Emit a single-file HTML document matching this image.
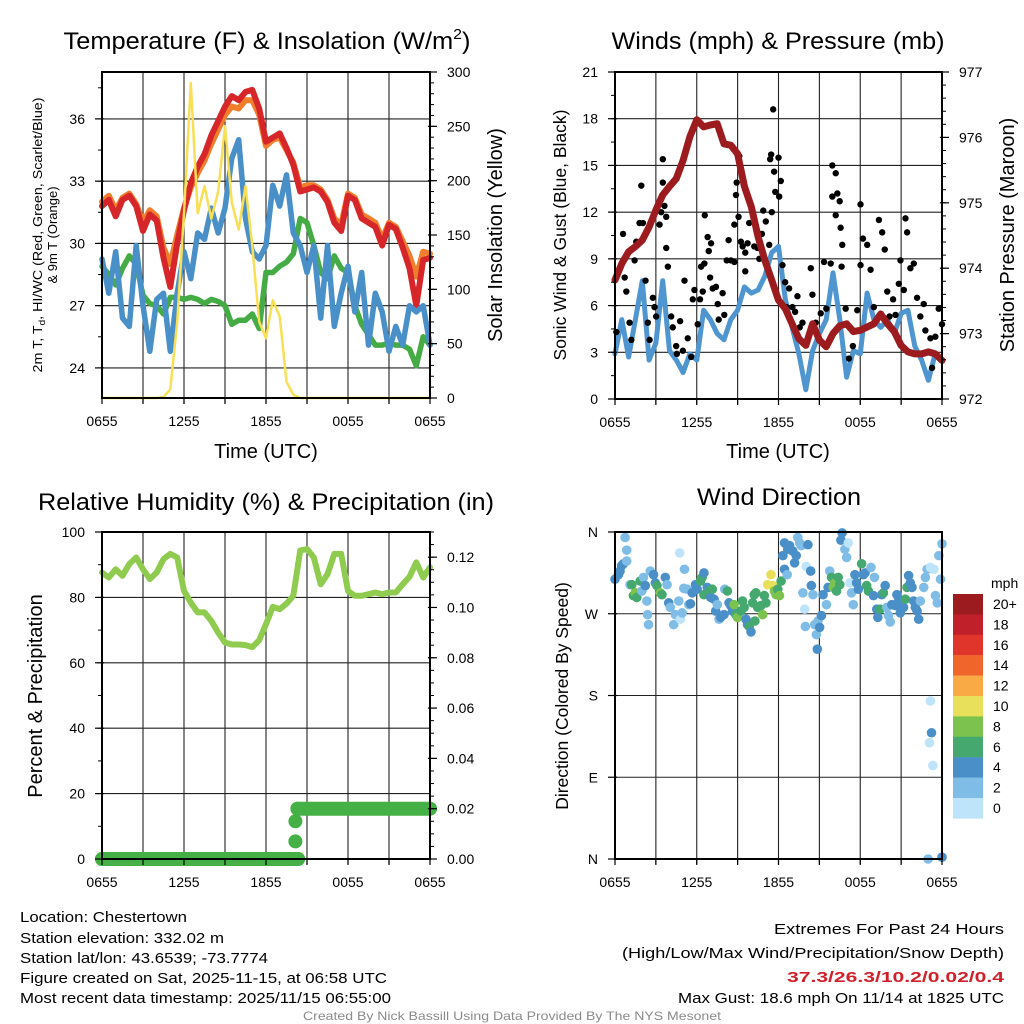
<!DOCTYPE html>
<html><head><meta charset="utf-8"><style>
html,body{margin:0;padding:0;background:#fff;}
svg{display:block;font-family:"Liberation Sans",Arial,sans-serif;}
</style></head><body>
<svg id="chart" width="1024" height="1024" viewBox="0 0 1024 1024" xmlns="http://www.w3.org/2000/svg">
<rect x="0" y="0" width="1024" height="1024" fill="#fff"/>
<g font-size="24" text-anchor="middle" fill="#000">
<text x="267" y="49" textLength="407" lengthAdjust="spacingAndGlyphs">Temperature (F) &amp; Insolation (W/m<tspan font-size="15" dy="-10">2</tspan><tspan dy="10">)</tspan></text>
<text x="778" y="49" textLength="333" lengthAdjust="spacingAndGlyphs">Winds (mph) &amp; Pressure (mb)</text>
<text x="266" y="510" textLength="456" lengthAdjust="spacingAndGlyphs">Relative Humidity (%) &amp; Precipitation (in)</text>
<text x="779" y="505" textLength="164" lengthAdjust="spacingAndGlyphs">Wind Direction</text>
</g>
<g font-size="13" text-anchor="middle">
<text transform="translate(42,235) rotate(-90)" textLength="275" lengthAdjust="spacingAndGlyphs">2m T, T<tspan font-size="9" dy="3">d</tspan><tspan dy="-3">, HI/WC (Red, Green, Scarlet/Blue)</tspan></text>
<text transform="translate(57,235) rotate(-90)">&amp; 9m T (Orange)</text>
</g>
<g font-size="20" text-anchor="middle">
<text transform="translate(502,235) rotate(-90)">Solar Insolation (Yellow)</text>
<text transform="translate(566,235) rotate(-90)" font-size="17.5">Sonic Wind &amp; Gust (Blue, Black)</text>
<text transform="translate(1014,235) rotate(-90)">Station Pressure (Maroon)</text>
<text transform="translate(42,696) rotate(-90)">Percent &amp; Precipitation</text>
<text transform="translate(568,696) rotate(-90)" font-size="17.5">Direction (Colored By Speed)</text>
<text x="266" y="458">Time (UTC)</text>
<text x="778" y="458">Time (UTC)</text>
</g>
<g font-size="15" fill="#000">
<text x="20" y="922" textLength="167" lengthAdjust="spacingAndGlyphs">Location: Chestertown</text>
<text x="20" y="943" textLength="204" lengthAdjust="spacingAndGlyphs">Station elevation: 332.02 m</text>
<text x="20" y="963" textLength="248" lengthAdjust="spacingAndGlyphs">Station lat/lon: 43.6539; -73.7774</text>
<text x="20" y="983" textLength="367" lengthAdjust="spacingAndGlyphs">Figure created on Sat, 2025-11-15, at 06:58 UTC</text>
<text x="20" y="1003" textLength="371" lengthAdjust="spacingAndGlyphs">Most recent data timestamp: 2025/11/15 06:55:00</text>
<text x="774" y="934" textLength="230" lengthAdjust="spacingAndGlyphs">Extremes For Past 24 Hours</text>
<text x="622" y="958" textLength="382" lengthAdjust="spacingAndGlyphs">(High/Low/Max Wind/Precipitation/Snow Depth)</text>
<text x="787" y="982" textLength="217" lengthAdjust="spacingAndGlyphs" fill="#d0202a" font-weight="bold">37.3/26.3/10.2/0.02/0.4</text>
<text x="678" y="1003" textLength="326" lengthAdjust="spacingAndGlyphs">Max Gust: 18.6 mph On 11/14 at 1825 UTC</text>
<text x="303" y="1020" font-size="12" fill="#8a8a8a" textLength="418" lengthAdjust="spacingAndGlyphs">Created By Nick Bassill Using Data Provided By The NYS Mesonet</text>
</g>
</svg>
<script>
// ---------- data ----------
const halfHours = [0,0.5,1,1.5,2,2.5,3,3.5,4,4.5,5,5.5,6,6.5,7,7.5,8,8.5,9,9.5,10,10.5,11,11.5,12,12.5,13,13.5,14,14.5,15,15.5,16,16.5,17,17.5,18,18.5,19,19.5,20,20.5,21,21.5,22,22.5,23,23.5,24];
const timeTickLabels = ["0655","1255","1855","0055","0655"];
const timeTickHours = [0,6,12,18,24];
const temp2m = [31.8,32.1,31.3,32.1,32.3,31.8,30.6,31.4,31.1,29.3,27.9,30.0,31.6,32.9,33.7,34.3,35.2,35.9,36.6,37.1,36.9,37.3,37.4,36.5,34.9,35.1,35.3,34.6,33.8,32.5,32.6,32.7,32.5,32.0,31.0,30.6,32.3,32.1,31.2,31.0,30.8,29.9,30.9,30.7,29.8,28.8,27.0,29.2,29.3];
const temp9m = [32.0,32.3,31.6,32.2,32.4,31.9,31.0,31.6,31.3,29.8,29.0,30.4,31.7,32.7,33.4,34.0,34.8,35.5,36.2,36.6,36.5,36.9,36.9,36.2,34.7,35.0,35.1,34.5,33.9,32.7,32.8,32.8,32.6,32.1,31.2,30.9,32.4,32.2,31.4,31.2,31.0,30.2,31.0,30.8,30.1,29.4,28.4,29.6,29.5];
const dewpoint = [28.9,28.5,28.0,28.8,29.4,29.0,27.5,27.1,27.0,26.6,27.4,27.4,27.3,27.4,27.3,27.1,27.3,27.2,27.0,26.1,26.3,26.3,26.6,25.9,28.6,28.6,28.9,29.1,29.5,31.2,31.0,29.9,28.6,28.3,29.4,28.8,28.6,27.0,26.1,25.6,25.1,25.1,25.2,25.1,25.1,24.9,24.1,25.5,25.1];
const windChill = [29.25,27.6,29.6,26.4,26.0,29.9,27.0,24.8,27.3,27.6,24.8,27.6,29.6,28.3,30.5,30.2,31.7,30.5,31.7,34.1,35.0,31.2,29.6,29.25,29.9,32.8,31.8,33.3,30.5,29.9,28.6,29.9,26.4,29.9,26.0,27.6,28.9,26.7,28.6,25.1,27.6,26.7,24.8,26.0,25.1,27.0,26.7,27.0,25.1];
const insolation = [0,0,0,0,0,0,0,0,0,1,8,70,170,290,170,195,165,190,250,180,155,195,140,70,55,90,75,15,3,0,0,0,0,0,0,0,0,0,0,0,0,0,0,0,0,0,0,0,0];
const tempTicks = [24,27,30,33,36];
const solarTicks = [0,50,100,150,200,250,300];

const sonicWind = [2.9,5.1,2.7,5.1,7.6,2.5,3.6,7.6,3.1,2.5,1.7,2.9,2.5,5.7,5.1,4.2,3.8,5.1,5.7,7.2,6.8,7.0,7.9,9.4,9.8,6.4,4.6,2.9,0.6,3.1,4.2,5.1,8.1,5.1,1.4,3.1,2.9,6.8,5.1,4.6,5.1,4.2,5.5,5.7,3.4,2.5,1.2,2.9,2.5];
const pressure = [973.82,974.07,974.25,974.33,974.43,974.63,974.89,975.12,975.25,975.37,975.65,976.01,976.27,976.16,976.19,976.21,975.9,975.88,975.75,975.25,974.94,974.48,974.12,973.82,973.51,973.38,973.15,972.92,972.82,973.15,972.9,972.8,973.0,973.12,973.15,973.03,973.05,973.1,973.15,973.3,973.15,973.03,972.82,972.72,972.69,972.69,972.72,972.69,972.59];
const gustHour = [0.10,0.59,0.71,0.83,1.07,1.20,1.44,1.56,1.80,1.93,2.05,2.24,2.41,2.54,2.78,2.90,3.02,3.27,3.39,3.51,3.63,3.51,3.76,3.76,3.88,4.12,4.24,4.49,4.54,4.78,4.98,5.10,5.34,5.59,5.71,5.83,6.07,6.24,6.32,6.44,6.56,6.59,6.80,6.88,6.98,7.05,7.17,7.41,7.54,7.61,7.90,8.02,8.20,8.34,8.51,8.76,8.76,8.88,8.93,9.07,9.12,9.24,9.37,9.56,9.56,9.73,9.85,10.22,10.46,10.59,10.78,10.88,11.07,11.32,11.39,11.46,11.51,11.61,11.68,11.76,12.0,12.05,12.17,12.29,12.49,12.59,12.78,13.02,13.22,13.39,13.56,13.76,14.37,14.49,14.73,15.10,15.34,15.51,15.83,15.95,16.20,15.95,16.32,16.49,16.20,16.56,16.68,16.63,16.93,17.17,17.46,17.78,18.02,18.02,18.20,18.51,18.76,19.0,19.37,19.61,19.80,19.98,20.15,20.41,20.59,20.83,20.95,21.20,21.32,21.44,21.68,21.93,22.17,22.41,22.66,22.78,23.15,23.27,23.51,23.76,24.0];
const gustMph = [4.3,10.6,7.8,6.9,4.9,3.8,8.9,10.1,11.3,13.7,11.3,7.6,4.9,3.8,6.5,5.9,5.3,11.2,12.0,13.9,12.4,15.4,11.7,9.7,8.5,5.3,4.6,3.4,2.9,5.0,3.1,7.6,3.9,2.7,6.4,7.0,4.8,6.4,8.5,6.9,8.7,11.8,10.4,9.5,7.8,10.0,7.1,7.2,6.1,5.1,6.8,5.4,8.9,10.2,8.9,8.8,11.2,13.1,13.9,11.7,15.6,10.1,9.8,9.4,8.2,10.0,11.3,9.8,9.7,9.0,10.6,12.1,11.4,9.9,15.4,15.7,12.0,18.6,14.6,13.3,15.5,13.0,14.0,8.6,7.5,5.9,7.1,5.9,5.6,6.6,4.6,4.9,8.4,6.7,4.9,5.5,8.8,5.8,8.7,15.0,14.5,13.0,13.2,12.7,11.8,11.0,9.9,8.5,5.8,2.6,3.4,5.7,12.5,8.6,10.3,9.9,8.3,5.9,11.5,10.7,9.6,6.9,5.3,6.4,5.4,7.4,8.9,7.0,11.6,10.7,8.4,8.7,6.5,5.3,6.1,4.4,3.9,2.0,4.0,5.8,4.8];
const windTicks = [0,3,6,9,12,15,18,21];
const pressureTicks = [972,973,974,975,976,977];

const humidity = [87.6,86.1,88.6,86.6,90.2,92.2,88.6,85.6,87.6,91.7,93.3,92.2,82.0,78.4,75.4,75.4,72.8,69.2,66.2,65.6,65.6,65.4,64.8,66.9,71.8,77.1,76.4,78.1,80.5,94.3,94.8,92.2,84.0,87.1,93.3,93.3,82.0,80.5,80.5,81.0,81.5,81.0,81.5,81.5,84.0,86.3,90.7,86.1,89.2];
const precipHour = [0,14.35,14.15,14.15,14.3,24];
const precipInches = [0,0,0.007,0.015,0.02,0.02];
const percentTicks = [0,20,40,60,80,100];
const precipTicks = ["0.00","0.02","0.04","0.06","0.08","0.10","0.12"];

const dirHour = [0.0,0.25,0.37,0.49,0.62,0.86,0.74,0.86,1.11,1.23,1.35,1.48,1.60,1.85,1.97,2.09,2.22,2.34,2.39,2.46,2.59,2.83,2.96,3.08,3.33,3.45,3.69,3.82,3.94,4.06,4.31,4.43,4.68,4.75,4.80,4.93,5.05,5.10,5.30,5.42,5.54,5.67,5.91,6.03,6.28,6.40,6.53,6.53,6.77,6.90,7.02,7.14,7.27,7.39,7.51,7.64,7.76,8.0,8.05,8.25,8.37,8.50,8.62,8.74,8.87,8.99,9.24,9.36,9.48,9.61,9.73,9.85,9.98,10.10,10.22,10.27,10.34,10.47,10.71,10.84,10.96,11.08,11.21,11.45,11.58,11.70,11.82,11.95,12.07,12.19,12.32,12.44,12.44,12.64,12.68,12.81,13.05,13.18,13.30,13.42,13.55,13.67,13.92,13.79,13.97,14.04,14.16,14.36,14.41,14.53,14.66,14.78,14.85,14.90,15.02,15.15,15.27,15.52,15.64,15.76,15.89,16.01,16.13,16.26,16.38,16.50,16.58,16.67,16.87,17.0,17.12,17.24,17.36,17.49,17.61,17.73,17.86,18.10,18.23,18.35,18.47,18.60,18.79,18.97,19.04,19.21,19.29,19.46,19.58,19.70,19.83,19.95,20.07,20.20,20.32,20.57,20.69,20.81,20.94,21.18,21.31,21.43,21.55,21.67,21.80,21.92,22.04,22.17,22.29,22.41,22.66,22.78,22.91,23.15,23.40,23.52,23.65,23.77,23.89,24.0,23.15,23.23,23.08,23.33,22.98,24.0];
const dirDegrees = [308,313,317,323,325,328,354,340,302,302,290,293,288,306,295,310,301,284,269,258,317,313,304,301,293,291,310,302,282,277,258,269,284,337,264,271,298,319,297,280,281,293,302,297,306,310,315,291,299,295,288,297,286,273,280,264,266,269,297,295,282,279,273,280,269,266,273,284,277,264,258,256,250,282,291,262,293,277,279,269,290,282,302,313,301,295,291,297,290,306,334,348,319,313,341,345,339,326,334,354,348,345,275,293,256,322,346,317,301,291,258,247,231,262,255,268,291,280,299,317,310,299,304,295,310,302,351,359,341,332,348,304,293,280,313,304,297,325,313,315,301,295,321,290,310,275,266,275,291,293,301,277,268,261,280,279,291,284,271,277,286,299,312,304,299,284,277,273,264,284,299,310,319,321,319,290,282,334,308,347,174,139,128,103,0,2];
const dirSpeed = [4,4,4,4,4,2,2,2,2,6,6,8,6,6,2,2,4,2,2,2,2,4,4,6,8,6,4,2,4,2,2,2,2,0,0,2,2,2,2,2,4,4,4,4,6,6,4,6,4,6,4,6,4,4,2,2,4,4,2,6,4,4,4,8,6,8,6,6,6,4,4,6,4,6,6,6,6,6,6,8,6,6,10,10,10,8,8,6,8,6,4,4,4,2,4,4,4,4,4,2,2,2,0,2,2,0,4,4,4,2,2,2,4,2,4,4,4,2,4,2,6,8,8,6,6,6,4,4,2,2,0,0,2,2,4,4,4,6,4,4,6,6,2,4,2,4,4,6,4,6,4,2,2,2,4,4,4,4,4,4,6,6,4,4,4,4,4,4,4,2,2,2,2,0,0,2,2,2,2,2,0,4,0,0,2,4];
const directionTickLabels = ["N","E","S","W","N"];
const directionTicks = [0,90,180,270,360];
const speedBins = ["0","2","4","6","8","10","12","14","16","18","20+"];
const speedColors = ["#bde4f8","#7fbde6","#4a8fc8","#45a86e","#7cc24e","#e8e05a","#f9aa45","#f0652a","#e0352b","#c0202a","#9b1b1f"];

// ---------- helpers ----------
const NS = "http://www.w3.org/2000/svg";
const svg = document.getElementById("chart");
function mk(tag, attrs, parent) {
  const e = document.createElementNS(NS, tag);
  for (const k in attrs) e.setAttribute(k, attrs[k]);
  (parent || svg).appendChild(e);
  return e;
}
function lineSeries(xs, ys, xf, yf, color, width, name, parent) {
  let d = "";
  for (let i = 0; i < xs.length; i++) d += (i ? "L" : "M") + xf(xs[i]).toFixed(1) + "," + yf(ys[i]).toFixed(1);
  const p = mk("path", {d: d, fill: "none", stroke: color, "stroke-width": width, "stroke-linejoin": "round", "stroke-linecap": "round"}, parent);
  
  
  return p;
}

const P1 = {l:102, r:430, t:72, b:398};
const P2 = {l:615, r:942, t:72, b:399};
const P3 = {l:102, r:430, t:532, b:859};
const P4 = {l:615, r:942, t:532, b:859};

const x1 = h => P1.l + h * (P1.r - P1.l) / 24;
const yT = v => P1.b - (v - 22.55) * 20.75;
const yS = v => P1.b - v * (P1.b - P1.t) / 300;
const x2 = h => P2.l + h * (P2.r - P2.l) / 24;
const yW = v => P2.b - v * (P2.b - P2.t) / 21;
const yP = v => P2.b - (v - 972) * (P2.b - P2.t) / 5;
const x3 = h => P3.l + h * (P3.r - P3.l) / 24;
const yR = v => P3.b - v * (P3.b - P3.t) / 100;
const yPr = v => P3.b - v * (P3.b - P3.t) / 0.13;
const x4 = h => P4.l + h * (P4.r - P4.l) / 24;
const yD = v => P4.b - v * (P4.b - P4.t) / 360;

function grid(P, xf, yvals, yf, name) {
  const g = mk("g", {stroke: "#222", "stroke-width": 1.1});
  
  
  for (let h = 3; h < 24; h += 3) mk("line", {x1: xf(h), x2: xf(h), y1: P.t, y2: P.b + 5}, g);
  yvals.forEach(v => { const y = yf(v); if (y > P.t + 1 && y < P.b - 1) mk("line", {x1: P.l, x2: P.r, y1: y, y2: y}, g); });
}
function frame(P, name) {
  const r = mk("rect", {x: P.l, y: P.t, width: P.r - P.l, height: P.b - P.t, fill: "none", stroke: "#000", "stroke-width": 2});
  
  
}
function xAxis(P, xf, name) {
  const g = mk("g", {"font-size": 14, "text-anchor": "middle"});
  
  
  for (let h = 0; h <= 24; h += 3) mk("line", {x1: xf(h), x2: xf(h), y1: P.b, y2: P.b + 6, stroke: "#000", "stroke-width": 1.2}, g);
  timeTickHours.forEach((h, i) => {
    const t = mk("text", {x: xf(h), y: P.b + 28}, g);
    t.textContent = timeTickLabels[i];
  });
}
function yAxis(P, side, vals, labels, yf, name, minorStep, minorFrom, minorTo) {
  const g = mk("g", {"font-size": 14, "text-anchor": side === "left" ? "end" : "start"});
  
  
  const x0 = side === "left" ? P.l : P.r;
  const dir = side === "left" ? -1 : 1;
  if (minorStep) for (let v = minorFrom; v <= minorTo + 1e-9; v += minorStep) {
    const y = yf(v); if (y >= P.t - 0.5 && y <= P.b + 0.5) mk("line", {x1: x0, x2: x0 + dir * 4, y1: y, y2: y, stroke: "#000", "stroke-width": 1}, g);
  }
  vals.forEach((v, i) => {
    const y = yf(v);
    mk("line", {x1: x0 - 7 * (side === "left" ? 1 : 0.3), x2: x0 + 7 * (side === "left" ? 0.3 : 1), y1: y, y2: y, stroke: "#000", "stroke-width": 1.2}, g);
    const t = mk("text", {x: x0 + dir * 17, y: y + 5}, g);
    t.textContent = labels[i];
  });
}

// ---------- Panel 1 ----------
grid(P1, x1, tempTicks, yT, "temperature-grid");
const p1 = mk("g", {});


lineSeries(halfHours, temp9m, x1, yT, "#f07e2c", 6, "temp-9m-line", p1);
lineSeries(halfHours, temp2m, x1, yT, "#d7262a", 6, "temp-2m-line", p1);
lineSeries(halfHours, dewpoint, x1, yT, "#45ab45", 5.5, "dewpoint-line", p1);
lineSeries(halfHours, windChill, x1, yT, "#4a90c8", 5.5, "windchill-line", p1);
lineSeries(halfHours, insolation, x1, yS, "#f8df55", 2.5, "insolation-line", p1);
frame(P1, "temperature-frame");
xAxis(P1, x1, "temperature-x-axis");
yAxis(P1, "left", tempTicks, tempTicks.map(String), yT, "temperature-y-axis", 1.5, 22.5, 38);
yAxis(P1, "right", solarTicks, solarTicks.map(String), yS, "insolation-y-axis", 10, 0, 300);

// ---------- Panel 2 ----------
grid(P2, x2, windTicks, yW, "winds-grid");
const p2 = mk("g", {});


lineSeries(halfHours, sonicWind, x2, yW, "#4f96d0", 5, "sonic-wind-line", p2);
const gg = mk("g", {fill: "#000"}, p2);


gustHour.forEach((h, i) => {
  const c = mk("circle", {cx: x2(h), cy: yW(gustMph[i]), r: 3.2}, gg);
  
  
});
lineSeries(halfHours, pressure, x2, yP, "#9b1b1e", 7, "pressure-line", p2);
frame(P2, "winds-frame");
xAxis(P2, x2, "winds-x-axis");
yAxis(P2, "left", windTicks, windTicks.map(String), yW, "wind-y-axis", 1.5, 0, 21);
yAxis(P2, "right", pressureTicks, pressureTicks.map(String), yP, "pressure-y-axis", 0.2, 972, 977);

// ---------- Panel 3 ----------
grid(P3, x3, percentTicks, yR, "humidity-grid");
const p3 = mk("g", {});


lineSeries(halfHours, humidity, x3, yR, "#8fcb4e", 6, "humidity-line", p3);
const pg = mk("g", {}, p3);


for (let i = 0; i < precipHour.length; i++) {
  const c = mk("circle", {cx: x3(precipHour[i]), cy: yPr(precipInches[i]), r: 7, fill: "#45b045"}, pg);
  
  
  if (i > 0 && precipInches[i] === precipInches[i - 1]) {
    const s = mk("line", {x1: x3(precipHour[i - 1]), x2: x3(precipHour[i]), y1: yPr(precipInches[i]), y2: yPr(precipInches[i]), stroke: "#45b045", "stroke-width": 14, "stroke-linecap": "round"}, pg);
    
    
  }
}
frame(P3, "humidity-frame");
xAxis(P3, x3, "humidity-x-axis");
yAxis(P3, "left", percentTicks, percentTicks.map(String), yR, "percent-y-axis", 10, 0, 100);
yAxis(P3, "right", precipTicks.map(Number), precipTicks, yPr, "precip-y-axis", 0.005, 0, 0.13);

// ---------- Panel 4 ----------
grid(P4, x4, directionTicks, yD, "direction-grid");
const p4 = mk("g", {});


dirHour.forEach((h, i) => {
  const bin = Math.min(10, Math.max(0, Math.round(dirSpeed[i] / 2)));
  const c = mk("circle", {cx: x4(h), cy: yD(dirDegrees[i]), r: 4.8, fill: speedColors[bin]}, p4);
  
  
});
frame(P4, "direction-frame");
xAxis(P4, x4, "direction-x-axis");
yAxis(P4, "left", directionTicks, directionTickLabels, yD, "direction-y-axis", 0, 0, 0);

// colorbar
const cb = mk("g", {"font-size": 14});


const cbTitle = mk("text", {x: 991, y: 588}, cb);


cbTitle.textContent = "mph";
for (let k = 0; k < speedBins.length; k++) {
  const idx = speedBins.length - 1 - k;
  const y = 594 + k * 20.4;
  const r = mk("rect", {x: 953, y: y, width: 30, height: 20.6, fill: speedColors[idx]}, cb);
  
  
  const t = mk("text", {x: 993, y: y + 15}, cb);
  
  
  t.textContent = speedBins[idx];
}
</script>
</body></html>
